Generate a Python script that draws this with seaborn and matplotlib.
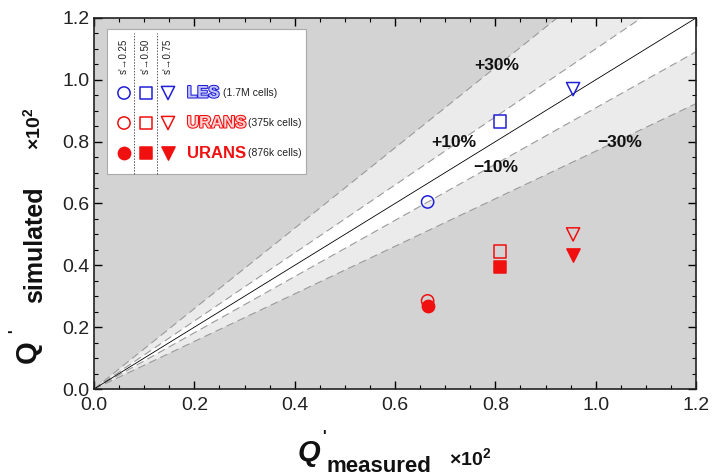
import numpy as np
import pandas as pd
import matplotlib
matplotlib.use("Agg")
import matplotlib.pyplot as plt
import matplotlib.patheffects as pe
from matplotlib.ticker import MultipleLocator
import seaborn as sns

# Measured vs simulated fluctuation magnitude at three streamwise stations
stations = ["s'→0.25", "s'→0.50", "s'→0.75"]
q_measured = [0.665, 0.810, 0.955]
q_les = [0.605, 0.865, 0.970]
q_urans_375k = [0.285, 0.445, 0.500]
q_urans_876k = [0.270, 0.395, 0.435]

series_names = ["LES", "URANS", "URANS"]
series_notes = ["(1.7M cells)", "(375k cells)", "(876k cells)"]
station_markers = ["o", "s", "v"]

BLUE = "#2020d8"
RED = "#f01010"

series = [
    dict(values=q_les, color=BLUE, filled=False),
    dict(values=q_urans_375k, color=RED, filled=False),
    dict(values=q_urans_876k, color=RED, filled=True),
]

sns.set_theme(style="white")
plt.rcParams["font.family"] = ["Liberation Sans", "DejaVu Sans"]
plt.rcParams["mathtext.fontset"] = "custom"
plt.rcParams["mathtext.rm"] = "Liberation Sans"
plt.rcParams["mathtext.bf"] = "Liberation Sans:bold"
plt.rcParams["mathtext.it"] = "Liberation Sans:italic"

W, H = 713, 475
AX_L, AX_R, AX_T, AX_B = 94, 696, 18, 389

fig = plt.figure(figsize=(W / 100, H / 100), dpi=100)
ax = fig.add_axes([AX_L / W, 1 - AX_B / H, (AX_R - AX_L) / W, (AX_B - AX_T) / H])


def fx(px):
    return (px - AX_L) / (AX_R - AX_L)


def fy(py):
    return (AX_B - py) / (AX_B - AX_T)


lim = 1.2
ax.set_xlim(0, lim)
ax.set_ylim(0, lim)
ax.set_facecolor("#d3d3d3")

# Error bands around the line of perfect agreement
xs = np.array([0.0, lim * 1.5])
ax.fill_between(xs, xs * 1.3, xs / 1.3, color="#ebebeb", lw=0, zorder=0.5)
ax.fill_between(xs, xs * 1.1, xs / 1.1, color="white", lw=0, zorder=0.6)
for f in (1.3, 1.1, 1 / 1.1, 1 / 1.3):
    ax.plot(xs, xs * f, color="#9a9a9a", lw=0.8, ls=(0, (7, 4)), zorder=0.8)
ax.plot(xs, xs, color="black", lw=0.6, zorder=0.9)

band_labels = [("+30%", 0.803, 1.045), ("+10%", 0.718, 0.796),
               ("\u221210%", 0.800, 0.715), ("\u221230%", 1.048, 0.796)]
for txt, bx, by in band_labels:
    ax.text(bx, by, txt, fontsize=12.5, fontweight="bold", ha="center",
            va="center", color="#111111", zorder=3)

# Data points
for sdef in series:
    for xm, yv, mk in zip(q_measured, sdef["values"], station_markers):
        df = pd.DataFrame({"measured": [xm], "simulated": [yv]})
        size = 90 if mk == "v" else 78
        sns.scatterplot(data=df, x="measured", y="simulated", ax=ax,
                        marker=mk, s=size, color=sdef["color"],
                        facecolor=sdef["color"] if sdef["filled"] else "none",
                        edgecolor=sdef["color"], linewidth=1.1, zorder=4,
                        legend=False)

# Legend box
ax.add_patch(plt.Rectangle((fx(107), fy(174)), fx(306) - fx(107), fy(29) - fy(174),
                           transform=ax.transAxes, facecolor="white",
                           edgecolor="#aaaaaa", lw=0.8, zorder=5))
for px in (134, 157):
    ax.plot([fx(px), fx(px)], [fy(174), fy(33)], transform=ax.transAxes,
            color="#555555", lw=0.7, ls=(0, (1.5, 1.5)), zorder=6)

col_x = [124, 146, 168]
row_y = [93, 123, 153]
for cx, lab in zip(col_x, stations):
    ax.text(fx(cx), fy(39), lab, rotation=90, fontsize=7,
            ha="center", va="top", transform=ax.transAxes, zorder=7, color="#222222")

for sdef, ry, name, note in zip(series, row_y, series_names, series_notes):
    for cx, mk in zip(col_x, station_markers):
        size = 90 if mk == "v" else 78
        ax.scatter([fx(cx)], [fy(ry)], marker=mk, s=size, transform=ax.transAxes,
                   facecolor=sdef["color"] if sdef["filled"] else "none",
                   edgecolor=sdef["color"], linewidth=1.1, zorder=7, clip_on=False)
    if sdef["filled"]:
        ax.text(fx(187), fy(ry), name, fontsize=12, fontweight="bold",
                color=sdef["color"], ha="left", va="center",
                transform=ax.transAxes, zorder=7)
    else:
        light = "#c4c4f4" if sdef["color"] == BLUE else "#fbd0d0"
        ax.text(fx(187), fy(ry), name, fontsize=12, fontweight="bold",
                color=light, ha="left", va="center", transform=ax.transAxes,
                zorder=7,
                path_effects=[pe.withStroke(linewidth=1.5, foreground=sdef["color"])])
    note_x = 223 if name == "LES" else 248
    ax.text(fx(note_x), fy(ry), note, fontsize=7.5, color="#222222",
            ha="left", va="center", transform=ax.transAxes, zorder=7)

# Axes styling
ax.xaxis.set_major_locator(MultipleLocator(0.2))
ax.yaxis.set_major_locator(MultipleLocator(0.2))
ax.xaxis.set_minor_locator(MultipleLocator(0.05))
ax.yaxis.set_minor_locator(MultipleLocator(0.05))
ax.tick_params(which="both", direction="in", top=True, right=True,
               bottom=True, left=True, colors="black", labelsize=14,
               labelcolor="#222222")
ax.tick_params(which="major", length=6, width=1)
ax.tick_params(which="minor", length=3, width=0.8)
ax.tick_params(axis="x", pad=6)
ax.xaxis.set_major_formatter(plt.FuncFormatter(lambda v, p: f"{v:.1f}"))
ax.yaxis.set_major_formatter(plt.FuncFormatter(lambda v, p: f"{v:.1f}"))
for sp in ax.spines.values():
    sp.set_color("#222222")
    sp.set_linewidth(1.2)
ax.set_xlabel("")
ax.set_ylabel("")

# Axis titles, built from a large symbol, a prime, a subscript and the scale factor
lab = dict(transform=ax.transAxes, color="#111111", fontweight="bold")
ax.text(fx(298), fy(453), "Q", fontsize=21, style="italic", ha="left", va="center", **lab)
ax.text(fx(322), fy(436), "'", fontsize=11, ha="left", va="center", **lab)
ax.text(fx(326), fy(466), "measured", fontsize=16, ha="left", va="center", **lab)
ax.text(fx(449), fy(458), r"$\mathbf{\times 10^2}$", fontsize=14, ha="left", va="center", **lab)

ax.text(fx(28), fy(363), "Q", fontsize=21, rotation=90, ha="center", va="bottom", **lab)
ax.text(fx(14), fy(333), "'", fontsize=11, rotation=90, ha="center", va="bottom", **lab)
ax.text(fx(35), fy(303), "simulated", fontsize=18, rotation=90, ha="center", va="bottom", **lab)
ax.text(fx(33), fy(150), r"$\mathbf{\times 10^2}$", fontsize=14, rotation=90,
        ha="center", va="bottom", **lab)

fig.savefig("out.png", dpi=100)
